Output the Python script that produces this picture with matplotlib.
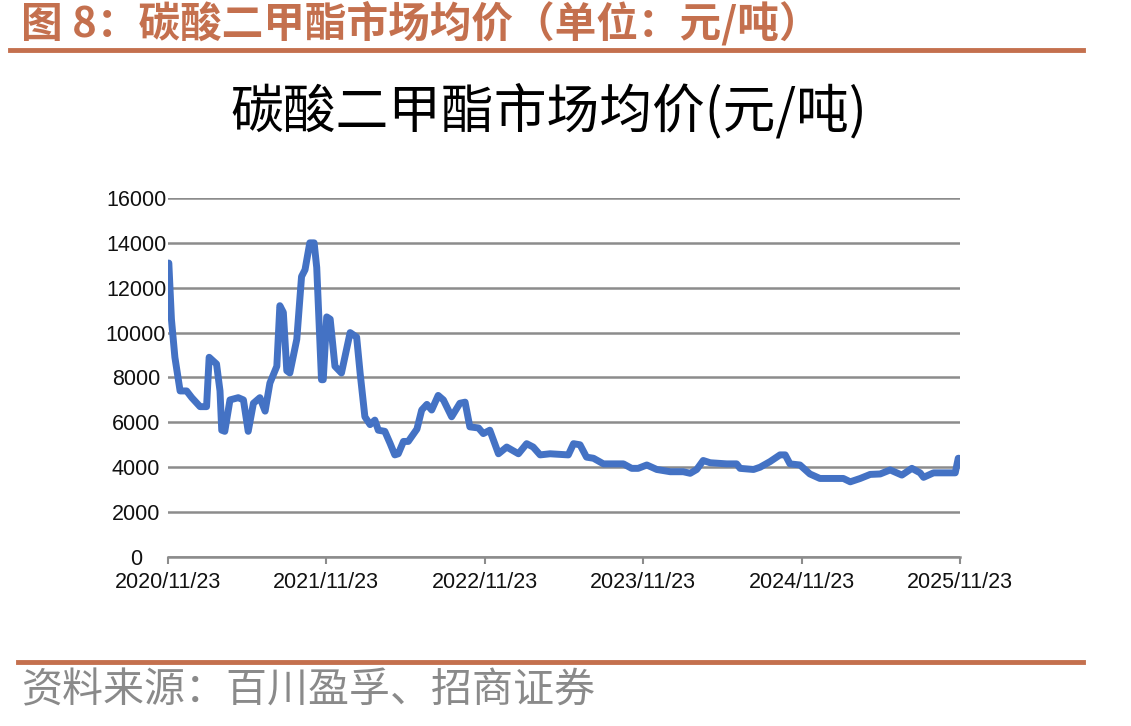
import matplotlib
matplotlib.use("Agg")
import matplotlib.pyplot as plt
import matplotlib.dates as mdates
import pandas as pd

# 数据：近似点位（元/吨）
dates = [
    "2020-11-25", "2020-12-01", "2020-12-09", "2020-12-21", "2021-01-05", "2021-01-17",
    "2021-02-05", "2021-02-20", "2021-02-26", "2021-03-15", "2021-03-23", "2021-03-27",
    "2021-04-03", "2021-04-15", "2021-05-04", "2021-05-16", "2021-05-27", "2021-06-08",
    "2021-06-23", "2021-07-05", "2021-07-16", "2021-08-01", "2021-08-08", "2021-08-16",
    "2021-08-24", "2021-08-31", "2021-09-16", "2021-09-27", "2021-10-05", "2021-10-16",
    "2021-10-26", "2021-11-01", "2021-11-12", "2021-11-16", "2021-11-24", "2021-12-02",
    "2021-12-13", "2021-12-28", "2022-01-17", "2022-02-01", "2022-02-09", "2022-02-20",
    "2022-03-04", "2022-03-15", "2022-03-23", "2022-04-07", "2022-04-19", "2022-04-30",
    "2022-05-08", "2022-05-20", "2022-05-31", "2022-06-20", "2022-07-01", "2022-07-13",
    "2022-07-24", "2022-08-08", "2022-08-20", "2022-09-08", "2022-09-27", "2022-10-09",
    "2022-10-20", "2022-11-09", "2022-11-20", "2022-12-05", "2022-12-25", "2023-01-13",
    "2023-02-09", "2023-02-28", "2023-03-15", "2023-03-31", "2023-04-23", "2023-06-04",
    "2023-06-16", "2023-07-01", "2023-07-16", "2023-08-01", "2023-08-24", "2023-10-09",
    "2023-10-28", "2023-11-12", "2023-12-02", "2023-12-25", "2024-01-25", "2024-02-24",
    "2024-03-11", "2024-03-26", "2024-04-10", "2024-04-26", "2024-06-03", "2024-06-26",
    "2024-07-04", "2024-08-04", "2024-08-19", "2024-09-11", "2024-10-04", "2024-10-16",
    "2024-10-27", "2024-11-19", "2024-12-12", "2025-01-04", "2025-02-27", "2025-03-15",
    "2025-04-07", "2025-04-30", "2025-05-23", "2025-06-15", "2025-07-12", "2025-08-04",
    "2025-08-23", "2025-08-31", "2025-09-23", "2025-10-24", "2025-11-12", "2025-11-19",
    "2025-11-21",
]
prices = [
    13100, 10600, 8900, 7400, 7400, 7100,
    6700, 6700, 8900, 8600, 7400, 5650,
    5600, 7000, 7100, 7000, 5600, 6850,
    7100, 6500, 7750, 8500, 11200, 10900,
    8300, 8200, 9700, 12500, 12800, 14000,
    14000, 12900, 7900, 7900, 10700, 10600,
    8500, 8200, 10000, 9800, 8200, 6250,
    5900, 6100, 5650, 5600, 5070, 4550,
    4600, 5150, 5150, 5700, 6550, 6800,
    6550, 7200, 7000, 6250, 6850, 6900,
    5800, 5750, 5500, 5650, 4600, 4900,
    4600, 5050, 4900, 4550, 4600, 4550,
    5050, 5000, 4450, 4400, 4150, 4150,
    3950, 3950, 4100, 3900, 3800, 3800,
    3730, 3900, 4300, 4200, 4150, 4150,
    3950, 3900, 4000, 4250, 4550, 4550,
    4150, 4100, 3700, 3500, 3500, 3350,
    3500, 3680, 3700, 3880, 3650, 3950,
    3750, 3550, 3750, 3750, 3750, 4400,
    4400,
]
tick_dates = ["2020-11-23", "2021-11-23", "2022-11-23", "2023-11-23", "2024-11-23", "2025-11-23"]
y_ticks = [0, 2000, 4000, 6000, 8000, 10000, 12000, 14000, 16000]

header = "图 8：碳酸二甲酯市场均价（单位：元/吨）"
chart_title = "碳酸二甲酯市场均价(元/吨)"
source = "资料来源：百川盈孚、招商证券"

cjk = ["Noto Sans CJK SC", "DejaVu Sans"]
accent = "#C4704E"
grid_grey = "#8C8C8C"

x = pd.to_datetime(dates)
ticks = pd.to_datetime(tick_dates)

fig = plt.figure(figsize=(11.31, 7.26), dpi=100)
fig.patch.set_facecolor("white")

# 页眉与页脚
fig.text(0.019, 0.968, header, family=cjk, fontsize=30, fontweight="bold",
         color=accent, ha="left", va="center")
fig.add_artist(plt.Line2D([0.009, 0.958], [0.931, 0.931], color=accent, lw=3.5))
fig.add_artist(plt.Line2D([0.016, 0.958], [0.088, 0.088], color=accent, lw=3.5))
fig.text(0.019, 0.048, source, family=cjk, fontsize=29.5, color="#8A8A8A",
         ha="left", va="center")

fig.text(0.485, 0.846, chart_title, family=cjk, fontsize=38, color="black",
         ha="center", va="center")

ax = fig.add_axes([0.1485, 0.2328, 0.7003, 0.4945])
ax.plot(x, prices, color="#4472C4", lw=5, solid_joinstyle="round",
        solid_capstyle="round", zorder=3)

ax.set_ylim(0, 16000)
ax.set_yticks(y_ticks)
ax.set_xlim(ticks[0], ticks[-1])
ax.set_xticks(ticks)
ax.xaxis.set_major_formatter(mdates.DateFormatter("%Y/%m/%d"))

ax.grid(axis="y", color=grid_grey, lw=1.8, zorder=0)
for side in ["top", "right", "left"]:
    ax.spines[side].set_visible(False)
ax.spines["bottom"].set_color(grid_grey)
ax.spines["bottom"].set_linewidth(1.8)
# y 轴标签居中对齐（与原图一致）
ax.tick_params(axis="y", length=0, pad=23)
ax.tick_params(axis="x", length=5, width=1.5, color=grid_grey, pad=6)
for lab in ax.get_xticklabels() + ax.get_yticklabels():
    lab.set_family(["Liberation Sans", "DejaVu Sans"])
    lab.set_fontsize(15.5)
    lab.set_color("#111111")
for lab in ax.get_yticklabels():
    lab.set_horizontalalignment("center")

fig.savefig("out.png", dpi=100, facecolor="white")
